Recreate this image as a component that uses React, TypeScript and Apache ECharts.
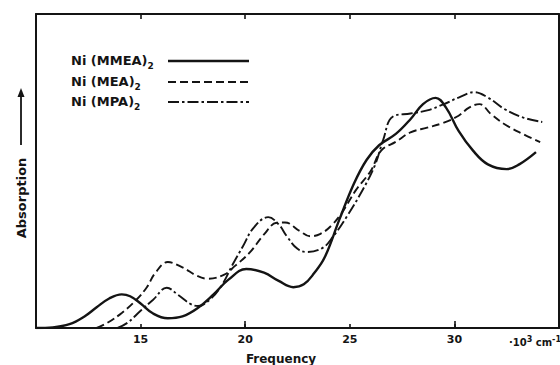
import React, { useEffect, useRef } from "react";
import * as echarts from "echarts";

// Frequency in 10^3 cm^-1, absorption in relative units (0 = baseline, 100 = frame top)
const seriesNames = ["Ni (MMEA)", "Ni (MEA)", "Ni (MPA)"];
const xTickValues = [15, 20, 25, 30];
const unitLabel = "·10";

const mmea: [number, number][] = [
  [10.0, 0], [10.8, 0.2], [11.6, 1.2], [12.3, 3.6], [12.9, 6.6], [13.5, 9.4], [14.1, 10.7],
  [14.5, 10.1], [15.0, 7.8], [15.6, 4.6], [16.3, 3.1], [17.0, 3.7], [17.7, 6.2], [18.5, 10.8],
  [19.2, 15.4], [20.05, 18.8], [20.9, 17.6], [21.6, 15.0], [22.3, 13.0], [22.8, 13.9],
  [23.3, 17.5], [23.8, 22.5], [24.5, 34.5], [25.2, 46.0], [25.8, 53.5], [26.4, 58.2],
  [27.2, 61.8], [27.9, 66.5], [28.5, 71.3], [29.1, 73.3], [29.6, 70.2], [30.2, 62.8],
  [30.9, 56.4], [31.6, 52.1], [32.5, 50.6], [33.1, 52.1], [33.9, 56.0],
];

const mea: [number, number][] = [
  [12.9, 0], [13.4, 1.6], [14.1, 4.8], [14.8, 9.0], [15.3, 13.0], [15.7, 17.5], [16.3, 21.0],
  [17.0, 19.3], [17.7, 16.6], [18.2, 15.7], [19.0, 17.0], [19.5, 19.7], [20.2, 23.9],
  [20.9, 29.8], [21.5, 33.5], [21.9, 33.6], [22.6, 30.9], [23.1, 29.2], [23.6, 30.0],
  [24.1, 32.5], [24.6, 36.5], [25.3, 44.0], [26.0, 50.0], [26.5, 56.5], [27.2, 59.3],
  [27.9, 62.3], [28.7, 63.8], [29.5, 65.4], [30.2, 67.6], [30.7, 70.2], [31.2, 71.3],
  [31.75, 68.1], [32.4, 64.9], [33.3, 61.7], [34.1, 59.2],
];

const mpa: [number, number][] = [
  [13.9, 0], [14.4, 1.8], [15.0, 5.5], [15.6, 9.0], [16.25, 12.8], [16.8, 10.5], [17.4, 7.6],
  [17.75, 7.0], [18.3, 9.0], [18.85, 13.3], [19.4, 20.2], [19.9, 26.1], [20.4, 31.9],
  [21.1, 35.3], [21.6, 33.0], [22.0, 29.1], [22.5, 25.2], [22.95, 24.2], [23.7, 25.5],
  [24.2, 29.1], [24.85, 35.4], [25.6, 43.8], [26.2, 51.8], [26.6, 60.0], [27.05, 67.3],
  [27.9, 68.3], [28.7, 69.3], [29.5, 71.3], [30.2, 73.4], [30.95, 75.1], [31.6, 73.4],
  [32.4, 69.7], [33.3, 67.0], [34.2, 65.6],
];

const INK = "#141414";
const FONT = "'DejaVu Sans', sans-serif";
const dashes: (string | number[])[] = ["solid", [8, 4], [11, 3, 2.5, 3]];
const widths = [2.4, 1.9, 1.9];

export default function App() {
  const ref = useRef<HTMLDivElement>(null);

  useEffect(() => {
    document.body.style.margin = "0";
    const chart = echarts.init(ref.current!, undefined, { renderer: "svg" });
    const datasets = [mmea, mea, mpa];

    const legendRows = [61, 82, 102];
    const legendGraphics: any[] = [];
    seriesNames.forEach((name, i) => {
      legendGraphics.push({
        type: "text",
        x: 71,
        y: legendRows[i] - 0.5,
        style: {
          text: `{a|${name}}{b|2}`,
          verticalAlign: "middle",
          align: "left",
          fill: INK,
          rich: {
            a: { fontFamily: FONT, fontWeight: "bold", fontSize: 13, lineHeight: 19, verticalAlign: "middle", fill: INK },
            b: { fontFamily: FONT, fontWeight: "bold", fontSize: 9, lineHeight: 9, verticalAlign: "bottom", fill: INK },
          },
        },
      });
      legendGraphics.push({
        type: "line",
        shape: { x1: 168, y1: legendRows[i], x2: 249, y2: legendRows[i] },
        style: {
          stroke: INK,
          lineWidth: widths[i] + 0.3,
          lineDash: dashes[i] === "solid" ? null : (dashes[i] as number[]),
        },
      });
    });

    const option: any = {
      animation: false,
      backgroundColor: "#ffffff",
      grid: { left: 36, right: 1, top: 14, bottom: 37 },
      xAxis: [
        {
          type: "value",
          min: 10,
          max: 35,
          interval: 5,
          position: "bottom",
          axisLine: { show: true, onZero: false, lineStyle: { color: INK, width: 2.2 } },
          axisTick: { show: true, inside: true, length: 4, lineStyle: { color: INK, width: 1.6 } },
          axisLabel: {
            show: true,
            showMinLabel: false,
            showMaxLabel: false,
            color: INK,
            fontFamily: FONT,
            fontWeight: "bold",
            fontSize: 11,
            margin: 6,
            formatter: (v: number) => (xTickValues.includes(v) ? String(v) : ""),
          },
          splitLine: { show: false },
        },
        {
          type: "value",
          min: 10,
          max: 35,
          interval: 5,
          position: "top",
          axisLine: { show: true, onZero: false, lineStyle: { color: INK, width: 2 } },
          axisTick: { show: true, inside: true, length: 5, lineStyle: { color: INK, width: 1.6 } },
          axisLabel: { show: false },
          splitLine: { show: false },
        },
        {
          type: "value",
          min: 10,
          max: 35,
          interval: 10,
          position: "bottom",
          axisLine: { show: false, onZero: false },
          axisTick: { show: true, inside: true, length: 7, lineStyle: { color: INK, width: 1.6 } },
          axisLabel: { show: false },
          splitLine: { show: false },
        },
      ],
      yAxis: [
        {
          type: "value",
          min: 0,
          max: 100,
          position: "left",
          axisLine: { show: true, onZero: false, lineStyle: { color: INK, width: 2 } },
          axisTick: { show: false },
          axisLabel: { show: false },
          splitLine: { show: false },
        },
        {
          type: "value",
          min: 0,
          max: 100,
          position: "right",
          axisLine: { show: true, onZero: false, lineStyle: { color: INK, width: 2 } },
          axisTick: { show: false },
          axisLabel: { show: false },
          splitLine: { show: false },
        },
      ],
      series: seriesNames.map((name, i) => ({
        name: name + "2",
        type: "line",
        xAxisIndex: 0,
        yAxisIndex: 0,
        data: datasets[i],
        symbol: "none",
        showSymbol: false,
        smooth: 0.4,
        lineStyle: { color: INK, width: widths[i], type: dashes[i] },
        z: 3 - i,
      })),
      graphic: [
        ...legendGraphics,
        {
          type: "text",
          x: 281,
          y: 359,
          style: {
            text: "Frequency",
            align: "center",
            verticalAlign: "middle",
            fontFamily: FONT,
            fontWeight: "bold",
            fontSize: 12,
            fill: INK,
          },
        },
        {
          type: "text",
          x: 509,
          y: 342,
          style: {
            text: `{a|${unitLabel}}{s|3}{a| cm}{s|-1}`,
            align: "left",
            verticalAlign: "middle",
            fill: INK,
            rich: {
              a: { fontFamily: FONT, fontWeight: "bold", fontSize: 10, lineHeight: 14, verticalAlign: "middle", fill: INK },
              s: { fontFamily: FONT, fontWeight: "bold", fontSize: 8, lineHeight: 8, verticalAlign: "top", fill: INK },
            },
          },
        },
        {
          type: "text",
          x: 21,
          y: 198,
          rotation: Math.PI / 2,
          style: {
            text: "Absorption",
            align: "center",
            verticalAlign: "middle",
            fontFamily: FONT,
            fontWeight: "bold",
            fontSize: 13,
            fill: INK,
          },
        },
        {
          type: "line",
          shape: { x1: 21, y1: 145, x2: 21, y2: 95 },
          style: { stroke: INK, lineWidth: 1.8 },
        },
        {
          type: "polygon",
          shape: { points: [[21, 88], [17.5, 97], [24.5, 97]] },
          style: { fill: INK },
        },
      ],
    };

    chart.setOption(option);
    return () => chart.dispose();
  }, []);

  return <div ref={ref} style={{ width: 560, height: 365, background: "#ffffff" }} />;
}
